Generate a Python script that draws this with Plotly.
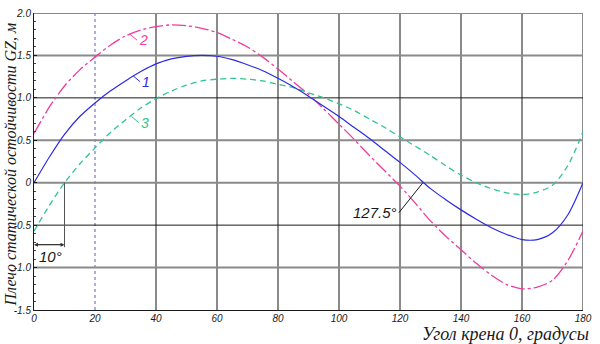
import plotly.graph_objects as go

# ---- data ----
angles = [0, 5, 10, 15, 20, 25, 30, 35, 40, 45, 50, 55, 60, 65, 70, 75, 80, 85, 90,
          95, 100, 105, 110, 115, 120, 125, 130, 135, 140, 145, 150, 155, 160, 165, 170, 175, 180]
gz1 = [0.0, 0.30, 0.57, 0.78, 0.94, 1.08, 1.20, 1.31, 1.40, 1.46, 1.49, 1.50, 1.49, 1.45, 1.39,
       1.32, 1.23, 1.13, 1.02, 0.90, 0.78, 0.65, 0.52, 0.38, 0.24, 0.09, -0.07, -0.20, -0.32,
       -0.43, -0.53, -0.61, -0.67, -0.67, -0.59, -0.38, 0.0]
gz2 = [0.58, 0.89, 1.14, 1.33, 1.48, 1.62, 1.73, 1.80, 1.84, 1.86, 1.85, 1.82, 1.77, 1.69, 1.60,
       1.48, 1.34, 1.19, 1.04, 0.87, 0.69, 0.51, 0.32, 0.14, -0.04, -0.24, -0.45, -0.63, -0.79,
       -0.95, -1.09, -1.20, -1.25, -1.23, -1.15, -0.92, -0.57]
gz3 = [-0.57, -0.27, 0.0, 0.22, 0.41, 0.59, 0.74, 0.88, 0.99, 1.08, 1.15, 1.20, 1.22, 1.23, 1.22,
       1.20, 1.16, 1.12, 1.06, 1.00, 0.93, 0.85, 0.75, 0.65, 0.54, 0.43, 0.32, 0.20, 0.09,
       0.00, -0.07, -0.12, -0.14, -0.11, -0.03, 0.20, 0.60]
curve_labels = ["1", "2", "3"]
x_ticks = [0, 20, 40, 60, 80, 100, 120, 140, 160, 180]
y_ticks = [-1.5, -1.0, -0.5, 0, 0.5, 1.0, 1.5, 2.0]
y_tick_text = ["-1.5", "-1.0", "-0.5", "0", "0.5", "1.0", "1.5", "2.0"]
zero_angle = 127.5
start_angle = 10

blue, pink, green = "#2a2ae6", "#ee3d9c", "#2fc48e"
gray = "#8a8a8a"
dark = "#1a1a1a"

PW, PH = 549, 297  # plot area size in px

fig = go.Figure()

shapes = []
for xv in x_ticks[1:]:
    if xv == 20:
        shapes.append(dict(type="line", x0=xv, x1=xv, y0=-1.5, y1=2.0, xref="x", yref="y",
                           line=dict(color="#5a5ac8", width=1, dash="dot"), layer="below"))
    else:
        shapes.append(dict(type="line", x0=xv, x1=xv, y0=-1.5, y1=2.0, xref="x", yref="y",
                           line=dict(color=gray, width=2), layer="below"))
for yv in y_ticks[1:]:
    if yv in (1.0, -0.5):
        shapes.append(dict(type="line", x0=0, x1=180, y0=yv, y1=yv, xref="x", yref="y",
                           line=dict(color=dark, width=1), layer="below"))
    else:
        shapes.append(dict(type="line", x0=0, x1=180, y0=yv, y1=yv, xref="x", yref="y",
                           line=dict(color=gray, width=2), layer="below"))
shapes.append(dict(type="line", x0=start_angle, x1=start_angle, y0=0, y1=-0.76, xref="x", yref="y",
                   line=dict(color="#555555", width=1)))
fig.update_layout(shapes=shapes)

fig.add_trace(go.Scatter(x=angles, y=gz2, mode="lines",
                         line=dict(color=pink, width=1.3, dash="14px,3px,3px,3px", shape="spline", smoothing=0.8),
                         showlegend=False))
fig.add_trace(go.Scatter(x=angles, y=gz3, mode="lines",
                         line=dict(color=green, width=1.3, dash="6px,4px", shape="spline", smoothing=0.8),
                         showlegend=False))
fig.add_trace(go.Scatter(x=angles, y=gz1, mode="lines",
                         line=dict(color=blue, width=1.2, shape="spline", smoothing=0.8),
                         showlegend=False))

lab_font = dict(family="Liberation Sans", size=14, style="italic")
ann = []
for lbl, col, (xa, ya) in zip(curve_labels, [blue, pink, green], [(32.5, 1.26), (31.5, 1.75), (32.0, 0.78)]):
    ann.append(dict(x=xa, y=ya, xref="x", yref="y", text=lbl, showarrow=True, arrowhead=0,
                    arrowcolor=col, arrowwidth=1, ax=7, ay=6, xanchor="left", yanchor="middle",
                    font=dict(lab_font, color=col)))
ann.append(dict(x=zero_angle, y=0, xref="x", yref="y", text=f"{zero_angle}°", showarrow=True,
                arrowhead=0, arrowwidth=1, arrowcolor=dark, ax=-24, ay=30, xanchor="right",
                yanchor="middle", font=dict(family="Liberation Sans", size=15, style="italic", color=dark)))
ann.append(dict(x=0, y=-0.73, ax=start_angle, ay=-0.73, xref="x", yref="y", axref="x", ayref="y",
                text="", showarrow=True, arrowhead=2, arrowsize=0.8, arrowwidth=1, arrowcolor="#333333"))
ann.append(dict(x=start_angle, y=-0.73, ax=0, ay=-0.73, xref="x", yref="y", axref="x", ayref="y",
                text="", showarrow=True, arrowhead=2, arrowsize=0.8, arrowwidth=1, arrowcolor="#333333"))
ann.append(dict(x=start_angle / 2 + 0.5, y=-0.87, xref="x", yref="y", text=f"{start_angle}°", showarrow=False,
                font=dict(family="Liberation Sans", size=15, style="italic", color=dark)))
# axis titles
ann.append(dict(x=1.0 + 8 / PW, y=-24 / PH, xref="paper", yref="paper", text="Угол крена 0, градусы",
                showarrow=False, xanchor="right", yanchor="middle",
                font=dict(family="Liberation Serif", size=18, style="italic", color=dark)))
ann.append(dict(x=-24 / PW, y=0.49, xref="paper", yref="paper", text="Плечо статической остойчивости GZ, м",
                showarrow=False, textangle=-90, xanchor="center", yanchor="middle",
                font=dict(family="Liberation Serif", size=16, style="italic", color=dark)))
fig.update_layout(annotations=ann)

fig.update_xaxes(range=[0, 180], tickvals=x_ticks, ticktext=[str(v) for v in x_ticks],
                 showgrid=False, zeroline=False, showline=True, linecolor=dark, linewidth=1,
                 ticks="", automargin=False, ticklabelstandoff=-1,
                 tickfont=dict(family="Liberation Sans", size=10, style="italic", color=dark))
fig.update_yaxes(range=[-1.5, 2.0], tickvals=y_ticks, ticktext=y_tick_text,
                 showgrid=False, zeroline=False, showline=True, linecolor=dark, linewidth=1,
                 ticks="inside", ticklen=3, tickcolor=dark, automargin=False,
                 minor=dict(ticks="inside", dtick=0.1, ticklen=2, tickcolor="#444444"),
                 tickfont=dict(family="Liberation Sans", size=10, style="italic", color=dark))

fig.update_layout(width=600, height=344, margin=dict(l=34, r=17, t=13, b=34, autoexpand=False),
                  paper_bgcolor="white", plot_bgcolor="white")

fig.write_html("out.html")
